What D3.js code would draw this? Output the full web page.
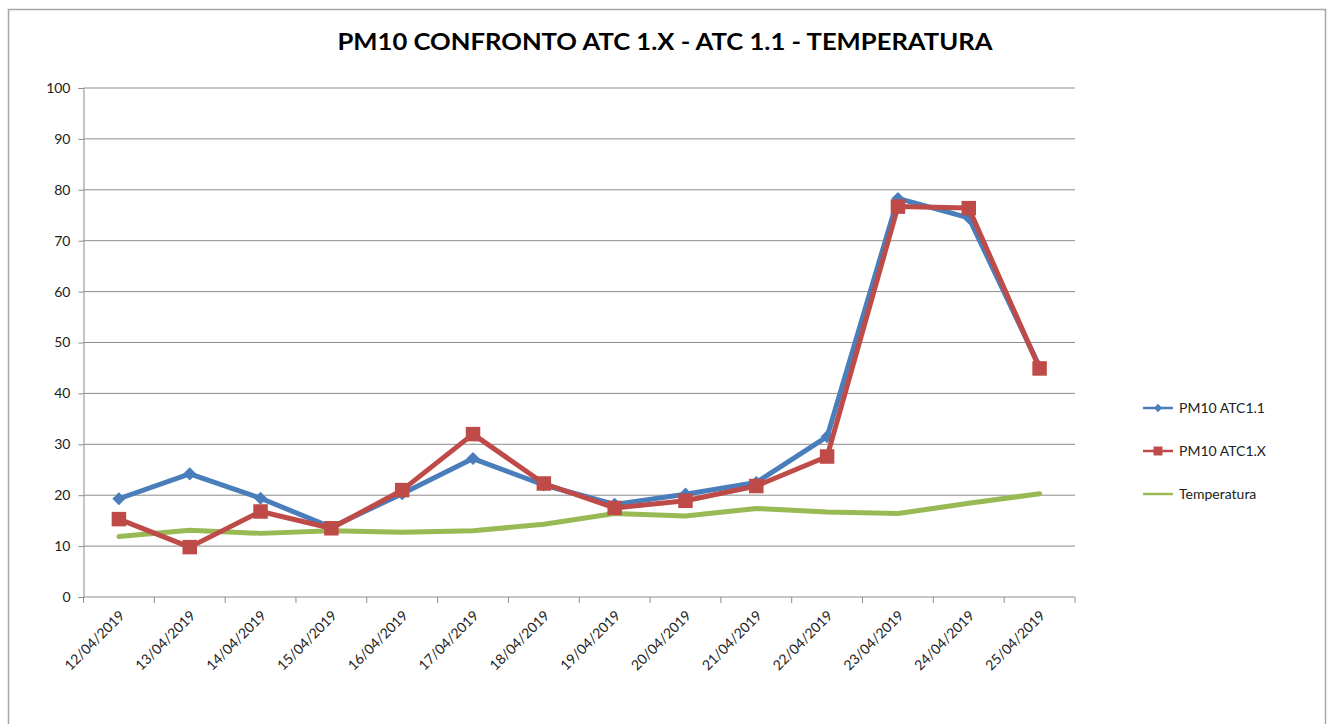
<!DOCTYPE html>
<html>
<head>
<meta charset="utf-8">
<script src="https://cdn.jsdelivr.net/npm/d3@7"></script>
<style>
body { margin: 0; background: #fff; }
text { font-family: Lato, "Open Sans", sans-serif; }
</style>
</head>
<body>
<div id="chart"></div>
<script>
// data
const dates = ["12/04/2019","13/04/2019","14/04/2019","15/04/2019","16/04/2019","17/04/2019","18/04/2019",
               "19/04/2019","20/04/2019","21/04/2019","22/04/2019","23/04/2019","24/04/2019","25/04/2019"];
const atc11 = [19.3, 24.2, 19.4, 13.7, 20.3, 27.2, 22.0, 18.2, 20.2, 22.5, 31.5, 78.3, 74.5, 45.2];
const atcX  = [15.3, 9.8, 16.8, 13.5, 21.0, 32.0, 22.3, 17.5, 18.9, 21.8, 27.6, 76.7, 76.4, 44.9];
const temperatura = [11.9, 13.1, 12.5, 13.0, 12.7, 13.0, 14.3, 16.4, 15.9, 17.4, 16.7, 16.4, 18.4, 20.3];
const yTicks = [0, 10, 20, 30, 40, 50, 60, 70, 80, 90, 100];

const width = 1330, height = 724;
const margin = {top: 88, right: 255, bottom: 127, left: 83.5};
const plot_w = width - margin.left - margin.right;
const plot_h = height - margin.top - margin.bottom;

let svg = d3.select("#chart")
    .append("svg")
    .attr("width", width)
    .attr("height", height);

// frame
svg.append("rect")
    .attr("x", 8.5).attr("y", 9.5)
    .attr("width", 1317).attr("height", 730)
    .attr("fill", "none").attr("stroke", "#a6a6a6").attr("stroke-width", 1.5);

svg.append("text")
    .attr("x", 665).attr("y", 50)
    .attr("text-anchor", "middle")
    .attr("font-weight", "bold")
    .attr("font-size", 23)
    .attr("textLength", 655)
    .attr("lengthAdjust", "spacingAndGlyphs")
    .text("PM10 CONFRONTO ATC 1.X - ATC 1.1 - TEMPERATURA");

let g = svg.append("g").attr("transform", `translate(${margin.left}, ${margin.top})`);

let x = d3.scaleBand().domain(dates).range([0, plot_w]);
let y = d3.scaleLinear().domain([0, 100]).range([plot_h, 0]);
let cx = d => x(d) + x.bandwidth() / 2;

// gridlines
g.append("g").selectAll("line").data(yTicks.slice(1)).join("line")
    .attr("x1", 0).attr("x2", plot_w)
    .attr("y1", d => y(d)).attr("y2", d => y(d))
    .attr("stroke", "#8c8c8c").attr("stroke-width", 1);

let yAxis = g.append("g").call(d3.axisLeft(y).tickValues(yTicks).tickSize(5).tickPadding(8));
yAxis.select(".domain").attr("stroke", "#8c8c8c");
yAxis.selectAll(".tick line").attr("stroke", "#8c8c8c");
yAxis.selectAll("text").attr("font-size", 14).attr("fill", "#222")
    .style("font-family", "Lato, sans-serif");

// x axis with ticks between categories
let xAxis = g.append("g").attr("transform", `translate(0, ${plot_h})`);
xAxis.append("line").attr("x1", 0).attr("x2", plot_w).attr("stroke", "#8c8c8c");
xAxis.selectAll(".bt").data(d3.range(dates.length + 1)).join("line")
    .attr("class", "bt")
    .attr("x1", i => i * x.step()).attr("x2", i => i * x.step())
    .attr("y1", 0).attr("y2", 6)
    .attr("stroke", "#8c8c8c");
xAxis.selectAll("text").data(dates).join("text")
    .attr("transform", d => `translate(${cx(d) + 3}, 16) rotate(-45)`)
    .attr("text-anchor", "end")
    .attr("dy", "0.35em")
    .attr("font-size", 14)
    .attr("fill", "#222")
    .text(d => d);

const series = [
    {name: "PM10 ATC1.1", values: atc11, color: "#4a7ebb", marker: "diamond"},
    {name: "PM10 ATC1.X", values: atcX, color: "#be4b48", marker: "square"},
    {name: "Temperatura", values: temperatura, color: "#98b954", marker: null}
];
const draw_order = [series[2], series[0], series[1]];

let line = d3.line().x((d, i) => cx(dates[i])).y(d => y(d));

draw_order.forEach(s => {
    g.append("path")
        .datum(s.values)
        .attr("fill", "none")
        .attr("stroke", s.color)
        .attr("stroke-width", 5)
        .attr("stroke-linejoin", "round")
        .attr("stroke-linecap", "round")
        .attr("d", line);
    if (s.marker) {
        let sym = s.marker == "diamond" ? d3.symbolDiamond2 : d3.symbolSquare;
        let size = s.marker == "diamond" ? 110 : 210;
        g.append("g").selectAll("path").data(s.values).join("path")
            .attr("transform", (d, i) => `translate(${cx(dates[i])}, ${y(d)})`)
            .attr("d", d3.symbol().type(sym).size(size))
            .attr("fill", s.color);
    }
});

// legend
let legend = svg.append("g").attr("transform", "translate(1143, 408)");
series.forEach((s, i) => {
    let row = legend.append("g").attr("transform", `translate(0, ${i * 43})`);
    row.append("line").attr("x1", 0).attr("x2", 30).attr("stroke", s.color).attr("stroke-width", 2.5);
    if (s.marker) {
        let sym = s.marker == "diamond" ? d3.symbolDiamond2 : d3.symbolSquare;
        row.append("path")
            .attr("transform", "translate(15, 0)")
            .attr("d", d3.symbol().type(sym).size(s.marker == "diamond" ? 45 : 80))
            .attr("fill", s.color);
    }
    row.append("text")
        .attr("x", 36).attr("dy", "0.35em")
        .attr("font-size", 14).attr("fill", "#222")
        .text(s.name);
});
</script>
</body>
</html>
